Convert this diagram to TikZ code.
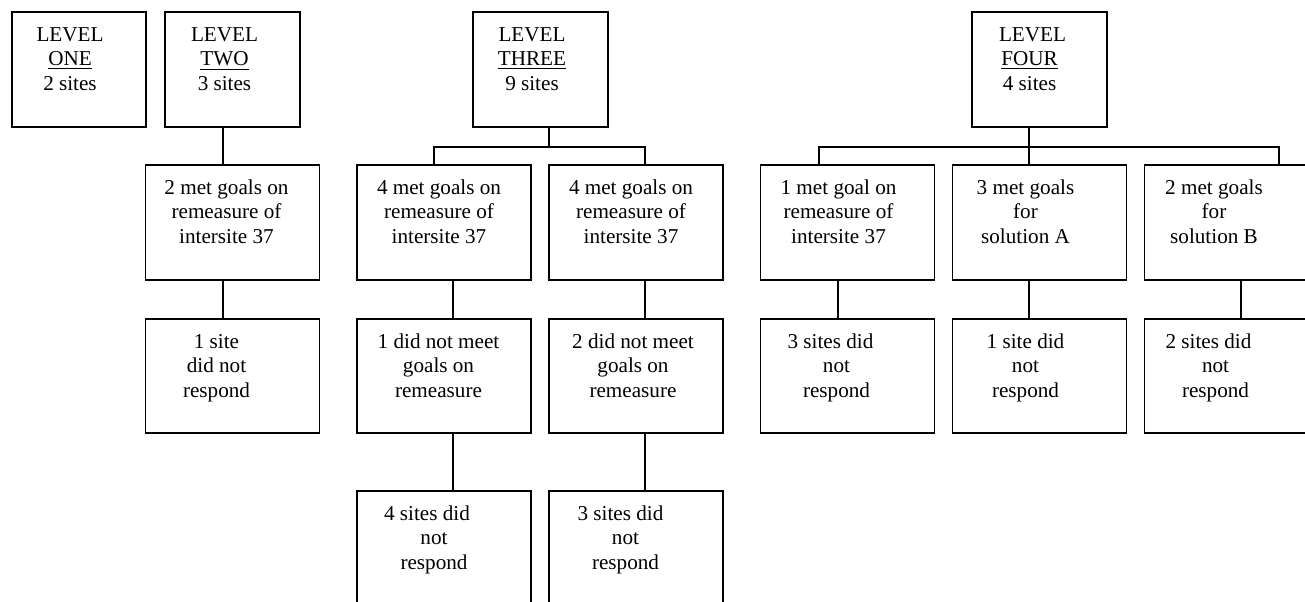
\documentclass[tikz,border=0pt]{standalone}
\usepackage{fontspec}
\setmainfont{Liberation Serif}
\usetikzlibrary{calc}
\begin{document}
\begin{tikzpicture}[x=0.5pt,y=-0.5pt,
  box/.style={draw=black, line width=0.75pt, rectangle, inner sep=0pt},
  topbox/.style={box, minimum width=67.5pt, minimum height=57.5pt},
  midbox/.style={box, minimum width=86.8pt, minimum height=57.5pt},
  lowbox/.style={box, minimum width=86.8pt, minimum height=57pt},
  conn/.style={draw=black, line width=0.75pt},
  txt/.style={anchor=north, align=center, inner sep=0pt,
    font=\fontsize{10.58}{12.3}\selectfont}
]
\path[use as bounding box, fill=white] (0,0) rectangle (1305,601);
\clip (0,0) rectangle (1305,601);

% level boxes
\node[topbox, minimum width=67pt] (l1) at (79,69.5) {};
\node[topbox] (l2) at (232.5,69.5) {};
\node[topbox] (l3) at (540.5,69.5) {};
\node[topbox] (l4) at (1039.5,69.5) {};

% second row
\node[midbox] (m2)  at (232.5,222.5) {};
\node[midbox] (m3a) at (444,222.5) {};
\node[midbox] (m3b) at (636,222.5) {};
\node[midbox] (m4a) at (847.5,222.5) {};
\node[midbox] (m4b) at (1039.5,222.5) {};
\node[midbox] (m4c) at (1231.5,222.5) {};

% third row
\node[lowbox] (r2)  at (232.5,376) {};
\node[lowbox] (r3a) at (444,376) {};
\node[lowbox] (r3b) at (636,376) {};
\node[lowbox] (r4a) at (847.5,376) {};
\node[lowbox] (r4b) at (1039.5,376) {};
\node[lowbox] (r4c) at (1231.5,376) {};

% fourth row
\node[midbox] (b3a) at (444,548.5) {};
\node[midbox] (b3b) at (636,548.5) {};

% texts
\node[txt] (tl1) at ($(l1.north)+(-9,12.35)$) {\strut LEVEL\\\underline{ONE}\\2 sites};
\node[txt] (tl2) at ($(l2.north)+(-8,12.35)$) {\strut LEVEL\\\underline{TWO}\\3 sites};
\node[txt] (tl3) at ($(l3.north)+(-8.5,12.35)$) {\strut LEVEL\\\underline{THREE}\\9 sites};
\node[txt] (tl4) at ($(l4.north)+(-10,12.35)$) {\strut\hspace*{3pt}LEVEL\\\underline{FOUR}\hspace*{3.5pt}\\4 sites};

\node[txt] (tm2)  at ($(m2.north)+(-6,12.35)$)  {\strut 2 met goals on\\remeasure of\\intersite 37};
\node[txt] (tm3a) at ($(m3a.north)+(-5,12.35)$) {\strut 4 met goals on\\remeasure of\\intersite 37};
\node[txt] (tm3b) at ($(m3b.north)+(-5,12.35)$) {\strut 4 met goals on\\remeasure of\\intersite 37};
\node[txt] (tm4a) at ($(m4a.north)+(-9,12.35)$) {\strut 1 met goal on\\remeasure of\\intersite 37};
\node[txt] (tm4b) at ($(m4b.north)+(-14,12.35)$) {\strut 3 met goals\\for\\solution A};
\node[txt] (tm4c) at ($(m4c.north)+(-17.5,12.35)$) {\strut 2 met goals\\for\\solution B};

\node[txt] (tr2)  at ($(r2.north)+(-16,12.35)$)  {\strut 1 site\\did not\\respond};
\node[txt] (tr3a) at ($(r3a.north)+(-5.5,12.35)$) {\strut 1 did not meet\\goals on\\remeasure};
\node[txt] (tr3b) at ($(r3b.north)+(-3,12.35)$)  {\strut 2 did not meet\\goals on\\remeasure};
\node[txt] (tr4a) at ($(r4a.north)+(-11,12.35)$) {\strut 3 sites did\hspace*{6pt}\\not\\respond};
\node[txt] (tr4b) at ($(r4b.north)+(-14,12.35)$) {\strut 1 site did\\not\\respond};
\node[txt] (tr4c) at ($(r4c.north)+(-16,12.35)$) {\strut 2 sites did\hspace*{7pt}\\not\\respond};

\node[txt] (tb3a) at ($(b3a.north)+(-10,12.35)$)   {\strut 4 sites did\hspace*{7pt}\\not\\respond};
\node[txt] (tb3b) at ($(b3b.north)+(-10.5,12.35)$) {\strut 3 sites did\hspace*{5pt}\\not\\respond};

% level two branch
\draw[conn] ($(l2.south)+(-9.5,0)$) -- ($(m2.north)+(-9.5,0)$);
\draw[conn] ($(m2.south)+(-9.5,0)$) -- ($(r2.north)+(-9.5,0)$);

% level three branch
\coordinate (j3) at ($(l3.south)+(8.5,19)$);
\draw[conn] ($(l3.south)+(8.5,0)$) -- (j3);
\draw[conn] ($(m3a.north)+(-10,0)$) |- (j3) -| ($(m3b.north)+(9,0)$);
\draw[conn] ($(m3a.south)+(9,0)$) -- ($(r3a.north)+(9,0)$);
\draw[conn] ($(r3a.south)+(9,0)$) -- ($(b3a.north)+(9,0)$);
\draw[conn] ($(m3b.south)+(9,0)$) -- ($(r3b.north)+(9,0)$);
\draw[conn] ($(r3b.south)+(9,0)$) -- ($(b3b.north)+(9,0)$);

% level four branch
\coordinate (j4) at ($(l4.south)+(-10.5,19)$);
\draw[conn] ($(l4.south)+(-10.5,0)$) -- ($(m4b.north)+(-10.5,0)$);
\draw[conn] ($(m4a.north)+(-28.5,0)$) |- (j4) -| ($(m4c.north)+(47.5,0)$);
\draw[conn] ($(m4a.south)+(-9.5,0)$) -- ($(r4a.north)+(-9.5,0)$);
\draw[conn] ($(m4b.south)+(-10.5,0)$) -- ($(r4b.north)+(-10.5,0)$);
\draw[conn] ($(m4c.south)+(9.5,0)$) -- ($(r4c.north)+(9.5,0)$);
\end{tikzpicture}
\end{document}
